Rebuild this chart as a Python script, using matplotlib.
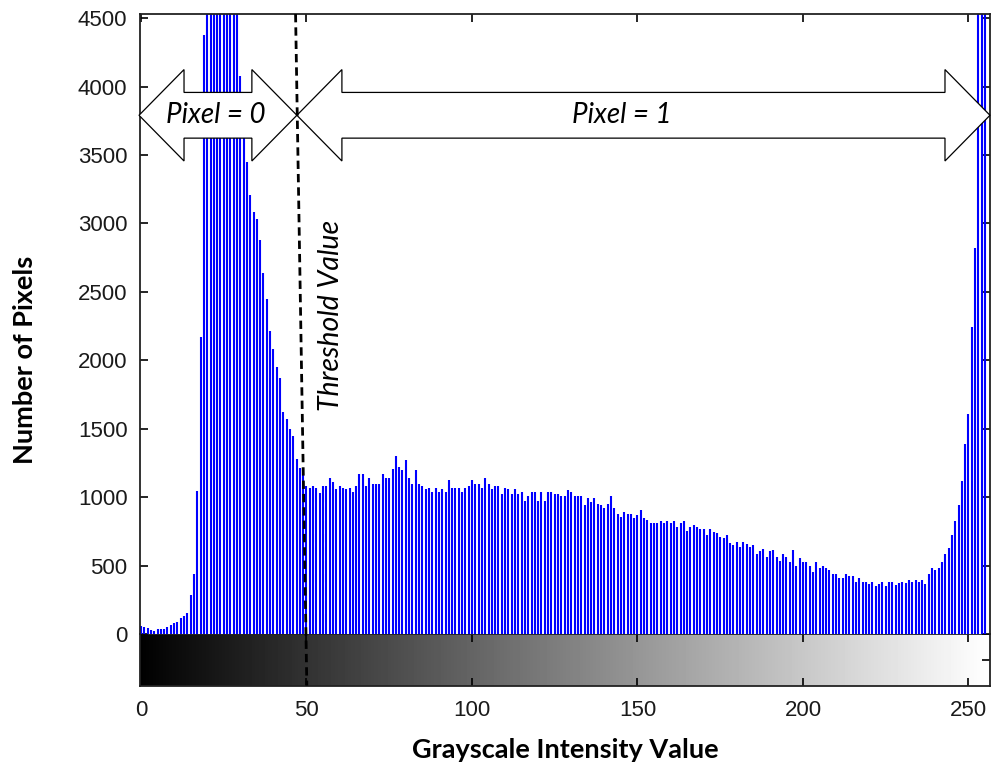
import numpy as np
import matplotlib
matplotlib.use('Agg')
import matplotlib.pyplot as plt
from matplotlib.patches import Polygon

# histogram counts (bins 0..255)
counts_dark = [58, 53, 41, 29, 24, 36, 36, 36, 53, 65, 82, 90, 114, 133, 157, 283, 440]
counts_rise = [1045, 2170, 4380]
counts_peak = [4900, 5600, 6100, 6400, 6300, 6000, 5700, 5300, 4950, 4650]
counts_fall = [4080, 3700, 3450, 3210, 3080, 3030, 2880, 2640, 2450, 2215,
               2080, 1950, 1870, 1625, 1570, 1500, 1450, 1280, 1210]
counts_mid = [1214, 1081, 1069, 1081, 1069, 1033, 1081, 1081, 1137, 1110,
              1057, 1081, 1069, 1057, 1069, 1040, 1081, 1166, 1166, 1081,
              1137, 1098, 1098, 1098, 1171, 1137, 1137, 1209, 1299, 1222,
              1195, 1268, 1137, 1098, 1195, 1098, 1081, 1057, 1069, 1040,
              1069, 1040, 1057, 1040, 1122, 1069, 1069, 1069, 1040, 1069,
              1081, 1122, 1098, 1098, 1069, 1137, 1098, 1057, 1081, 1081,
              1026, 1069, 1057, 1026, 1057, 1026, 1040, 972, 1009, 1040,
              1040, 972, 1040, 972, 1040, 1040, 1026]
counts_slope = [1021, 1009, 1009, 1050, 1040, 1009, 1009, 1009, 943, 997,
                968, 997, 953, 943, 924, 953, 1009, 924, 880, 856,
                895, 880, 880, 851, 868, 907, 851, 832, 808, 808,
                808, 822, 808, 822, 808, 822, 784, 808, 822, 750,
                784, 798, 784, 767, 767, 726, 767, 743, 738, 711,
                701, 726, 663, 653, 670, 639, 670, 658, 639, 653,
                585, 610, 622, 566, 605, 614, 561, 537, 585, 566,
                525]
counts_light = [616, 498, 557, 527, 527, 498, 453, 527, 483, 498,
                483, 468, 438, 438, 409, 409, 438, 424, 424, 379,
                409, 379, 379, 364, 379, 350, 364, 379, 350, 379,
                379, 358, 370, 379, 370, 394, 379, 394, 379, 394,
                364, 438, 483, 468, 483, 527, 586, 631, 720, 823,
                942, 1120, 1386, 1608, 2245, 2823]
counts_white = [5200, 7400, 9800]

counts = np.array(counts_dark + counts_rise + counts_peak + counts_fall + counts_mid
                  + counts_slope + counts_light + counts_white)
levels = np.arange(len(counts))

threshold = 49
yticks = np.arange(0, 4501, 500)
xticks = np.arange(0, 251, 50)

W, H = 994, 765
fig = plt.figure(figsize=(W / 100, H / 100), dpi=100)
ax = fig.add_axes([140 / W, 1 - 634 / H, 850 / W, 620 / H])
cax = fig.add_axes([140 / W, 1 - 686 / H, 850 / W, 52 / H])
ax.set_zorder(3)

tick_font = dict(family='Liberation Sans', size=16, color='#1a1a1a')

# stems
ax.vlines(levels, 0, counts, color='#0000ff', lw=1.5)
ax.set_xlim(-0.3, 256.5)
ax.set_ylim(0, 4530)
ax.set_yticks(yticks)
ax.set_yticklabels([str(v) for v in yticks], fontdict=tick_font)
ax.set_xticks(xticks)
ax.tick_params(axis='y', direction='in', left=True, right=True, length=6, width=1.2, pad=9)
ax.tick_params(axis='x', direction='in', top=True, bottom=False, labelbottom=False, length=6, width=1.2)
for s in ax.spines.values():
    s.set_linewidth(1.3)
    s.set_color('#222222')
ax.spines['bottom'].set_visible(False)

# grayscale bar
cax.imshow(np.arange(256)[None, :], cmap='gray', aspect='auto',
           extent=(-0.5, 255.5, 0, 1), vmin=0, vmax=255)
cax.set_xlim(-0.3, 256.5)
cax.set_ylim(0, 1)
cax.set_xticks(xticks)
cax.set_xticklabels([str(v) for v in xticks], fontdict=tick_font)
cax.set_yticks([0.5])
cax.tick_params(axis='x', direction='in', top=True, bottom=True, length=6, width=1.2, pad=10)
cax.tick_params(axis='y', direction='in', left=False, right=True, labelleft=False, length=6, width=1.2)
for s in cax.spines.values():
    s.set_linewidth(1.3)
    s.set_color('#222222')


def double_arrow(x0, x1, yc, head_len=13.6, head_w=334, shaft_w=167):
    pts = [(x0, yc), (x0 + head_len, yc + head_w), (x0 + head_len, yc + shaft_w),
           (x1 - head_len, yc + shaft_w), (x1 - head_len, yc + head_w), (x1, yc),
           (x1 - head_len, yc - head_w), (x1 - head_len, yc - shaft_w),
           (x0 + head_len, yc - shaft_w), (x0 + head_len, yc - head_w)]
    ax.add_patch(Polygon(pts, closed=True, facecolor='white', edgecolor='black',
                         lw=0.9, clip_on=False, zorder=4))


double_arrow(-0.6, 47.1, 3790)
double_arrow(47.1, 256.5, 3790)

ax.text(22.7, 3790, 'Pixel = 0', family='Lato', style='italic', size=20,
        ha='center', va='center', zorder=5)
ax.text(145.3, 3790, 'Pixel = 1', family='Lato', style='italic', size=20,
        ha='center', va='center', zorder=5)

# threshold line (slightly slanted as in the original sketch)
ax.plot([threshold - 2.3, threshold + 1.1], [4530, -377], color='black', lw=2,
        linestyle=(0, (3, 1.8)), clip_on=False, zorder=6)
ax.text(57.4, 2330, 'Threshold Value', family='Lato', style='italic', size=20.5,
        rotation=90, ha='center', va='center')

fig.text(25 / W, 1 - 360 / H, 'Number of Pixels', family='Lato', weight='bold',
         size=19.5, rotation=90, ha='center', va='center')
fig.text(565 / W, 1 - 750 / H, 'Grayscale Intensity Value', family='Lato', weight='bold',
         size=19.5, ha='center', va='center')

fig.savefig('out.png', dpi=100)
